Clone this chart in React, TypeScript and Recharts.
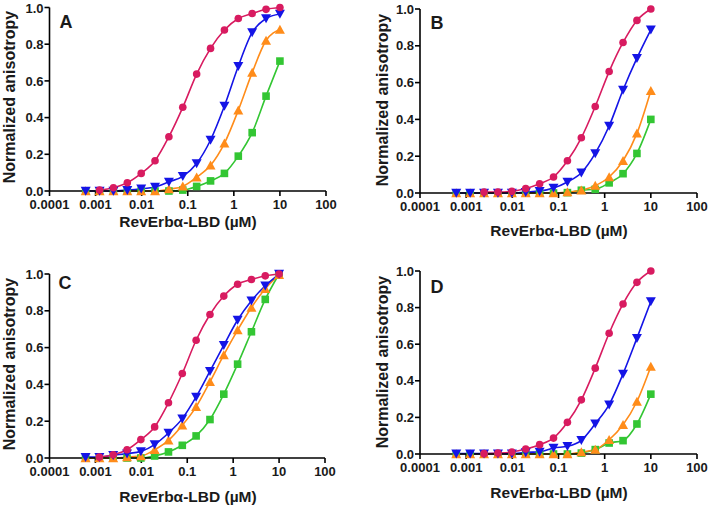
import React from 'react';
import { ComposedChart, Line, XAxis, YAxis } from 'recharts';

// 2-fold dilution series of RevErbα-LBD (µM)
const CONC = [0.00061, 0.00122, 0.00244, 0.00488, 0.00977, 0.0195, 0.039, 0.078, 0.156, 0.3125, 0.625, 1.25, 2.5, 5, 10];

const X_TICKS = [0.0001, 0.001, 0.01, 0.1, 1, 10, 100];
const Y_TICKS = [0, 0.2, 0.4, 0.6, 0.8, 1.0];

// panel A
const A_PINK = [null, 0.005, 0.018, 0.045, 0.096, 0.165, 0.296, 0.456, 0.637, 0.777, 0.877, 0.94, 0.967, 0.99, 1.0];
const A_BLUE = [0, 0, 0, 0.005, 0.012, 0.022, 0.05, 0.08, 0.15, 0.278, 0.463, 0.68, 0.864, 0.94, 0.965];
const A_ORANGE = [0, 0, 0, 0, 0, 0, 0.01, 0.025, 0.075, 0.14, 0.26, 0.44, 0.645, 0.82, 0.88];
const A_GREEN = [0, 0, 0, 0, 0, 0, 0, 0.005, 0.025, 0.055, 0.096, 0.19, 0.318, 0.517, 0.708];

// panel B
const B_PINK = [null, null, 0.005, 0.005, 0.009, 0.024, 0.05, 0.087, 0.175, 0.3, 0.47, 0.66, 0.818, 0.938, 1.0];
const B_BLUE = [0, 0, 0, 0, 0, 0.005, 0.01, 0.027, 0.06, 0.11, 0.215, 0.364, 0.56, 0.733, 0.887];
const B_ORANGE = [0, 0, 0, 0, 0, 0, 0, 0, 0.005, 0.015, 0.04, 0.087, 0.175, 0.324, 0.556];
const B_GREEN = [0, 0, 0, 0, 0, 0, 0, 0, 0.002, 0.015, 0.02, 0.055, 0.105, 0.215, 0.4];

// panel C
const C_PINK = [null, 0.005, 0.018, 0.045, 0.1, 0.169, 0.3, 0.459, 0.64, 0.78, 0.88, 0.944, 0.97, 0.99, 1.0];
const C_BLUE = [0.005, 0.005, 0.015, 0.024, 0.036, 0.073, 0.136, 0.214, 0.332, 0.472, 0.613, 0.75, 0.855, 0.936, 1.0];
const C_ORANGE = [0, 0, 0, 0.005, 0.01, 0.045, 0.096, 0.178, 0.278, 0.414, 0.56, 0.695, 0.818, 0.92, 0.995];
const C_GREEN = [0, 0, 0, 0, 0, 0.011, 0.033, 0.069, 0.12, 0.209, 0.347, 0.51, 0.686, 0.862, 1.0];

// panel D
const D_PINK = [null, null, 0.002, 0.005, 0.011, 0.027, 0.051, 0.087, 0.173, 0.296, 0.469, 0.66, 0.82, 0.938, 1.0];
const D_BLUE = [0.002, 0.002, 0.002, 0.002, 0.002, 0.009, 0.011, 0.033, 0.042, 0.075, 0.165, 0.27, 0.438, 0.633, 0.833];
const D_ORANGE = [0, 0, 0, 0, 0, 0, 0, 0, 0, 0.011, 0.024, 0.078, 0.16, 0.287, 0.478];
const D_GREEN = [0, 0, 0, 0, 0, 0, 0, 0, 0, 0.005, 0.024, 0.06, 0.073, 0.164, 0.327];

const PINK = '#d81b60';
const BLUE = '#1414e6';
const ORANGE = '#ff8c1a';
const GREEN = '#33c633';
const FONT = '"Liberation Sans", Arial, sans-serif';

const toRows = (vals: (number | null)[]) =>
  CONC.map((x, i) => ({ x, v: vals[i] })).filter((r) => r.v !== null);

const Circle = (p: any) => <circle key={p.index} cx={p.cx} cy={p.cy} r={3.8} fill={PINK} />;
const Down = (p: any) => (
  <path key={p.index} d={`M${p.cx - 5},${p.cy - 4.2}L${p.cx + 5},${p.cy - 4.2}L${p.cx},${p.cy + 4.8}Z`} fill={BLUE} />
);
const Up = (p: any) => (
  <path key={p.index} d={`M${p.cx - 5},${p.cy + 4.2}L${p.cx + 5},${p.cy + 4.2}L${p.cx},${p.cy - 4.8}Z`} fill={ORANGE} />
);
const Square = (p: any) => <rect key={p.index} x={p.cx - 3.8} y={p.cy - 3.8} width={7.6} height={7.6} fill={GREEN} />;

interface PanelProps {
  letter: string;
  left: number;
  top: number;
  height: number;
  margin: { top: number; right: number; bottom: number; left: number };
  pink: (number | null)[];
  blue: (number | null)[];
  orange: (number | null)[];
  green: (number | null)[];
  yTitle: [number, number];
  xTitle: [number, number];
  letterPos: [number, number];
}

const tickStyle = { fill: '#1a1a1a', fontSize: 13, fontWeight: 700, fontFamily: FONT };

const Panel = (p: PanelProps) => (
  <div style={{ position: 'absolute', left: p.left, top: p.top, width: 355, height: p.height }}>
    <ComposedChart width={355} height={p.height} margin={p.margin}>
      <XAxis
        dataKey="x"
        type="number"
        scale="log"
        domain={[0.0001, 100]}
        ticks={X_TICKS}
        allowDataOverflow
        height={30}
        tickFormatter={(v) => String(v)}
        tick={tickStyle}
        tickSize={5}
        tickMargin={4}
        axisLine={{ stroke: '#000', strokeWidth: 1.6 }}
        tickLine={{ stroke: '#000', strokeWidth: 1.6 }}
      />
      <YAxis
        type="number"
        domain={[0, 1]}
        ticks={Y_TICKS}
        width={40}
        tickFormatter={(v) => v.toFixed(1)}
        tick={tickStyle}
        tickSize={5}
        tickMargin={1}
        axisLine={{ stroke: '#000', strokeWidth: 1.6 }}
        tickLine={{ stroke: '#000', strokeWidth: 1.6 }}
      />
      <Line data={toRows(p.green)} dataKey="v" type="monotone" stroke={GREEN} strokeWidth={1.6} dot={Square} activeDot={false} isAnimationActive={false} />
      <Line data={toRows(p.orange)} dataKey="v" type="monotone" stroke={ORANGE} strokeWidth={1.6} dot={Up} activeDot={false} isAnimationActive={false} />
      <Line data={toRows(p.blue)} dataKey="v" type="monotone" stroke={BLUE} strokeWidth={1.6} dot={Down} activeDot={false} isAnimationActive={false} />
      <Line data={toRows(p.pink)} dataKey="v" type="monotone" stroke={PINK} strokeWidth={1.6} dot={Circle} activeDot={false} isAnimationActive={false} />
    </ComposedChart>
    <div
      style={{
        position: 'absolute', left: p.yTitle[0], top: p.yTitle[1], transform: 'translate(-50%, -50%) rotate(-90deg)',
        whiteSpace: 'nowrap', font: `700 16px ${FONT}`, color: '#1a1a1a',
      }}
    >
      Normalized anisotropy
    </div>
    <div
      style={{
        position: 'absolute', left: p.xTitle[0], top: p.xTitle[1], transform: 'translate(-50%, -50%)',
        whiteSpace: 'nowrap', font: `700 15.5px ${FONT}`, color: '#1a1a1a',
      }}
    >
      RevErbα-LBD (µM)
    </div>
    <div
      style={{
        position: 'absolute', left: p.letterPos[0], top: p.letterPos[1], transform: 'translate(-50%, -50%)',
        font: `700 18px ${FONT}`, color: '#1a1a1a',
      }}
    >
      {p.letter}
    </div>
  </div>
);

export default function App() {
  return (
    <div style={{ position: 'absolute', left: 0, top: 0, width: 711, height: 505, background: '#fff', overflow: 'hidden' }}>
      <Panel letter="A" left={0} top={0} height={250} margin={{ top: 7.5, right: 29, bottom: 29, left: 9.5 }}
        pink={A_PINK} blue={A_BLUE} orange={A_ORANGE} green={A_GREEN}
        yTitle={[10, 97]} xTitle={[188, 222]} letterPos={[66, 22]} />
      <Panel letter="B" left={355} top={0} height={250} margin={{ top: 9, right: 13, bottom: 27, left: 25 }}
        pink={B_PINK} blue={B_BLUE} orange={B_ORANGE} green={B_GREEN}
        yTitle={[28, 100]} xTitle={[204, 231]} letterPos={[82, 23]} />
      <Panel letter="C" left={0} top={250} height={255} margin={{ top: 24, right: 30, bottom: 17, left: 9.5 }}
        pink={C_PINK} blue={C_BLUE} orange={C_ORANGE} green={C_GREEN}
        yTitle={[10, 114]} xTitle={[188, 247]} letterPos={[65, 33]} />
      <Panel letter="D" left={355} top={250} height={255} margin={{ top: 21, right: 13, bottom: 21, left: 25 }}
        pink={D_PINK} blue={D_BLUE} orange={D_ORANGE} green={D_GREEN}
        yTitle={[28, 112]} xTitle={[204, 243]} letterPos={[82, 37]} />
    </div>
  );
}
